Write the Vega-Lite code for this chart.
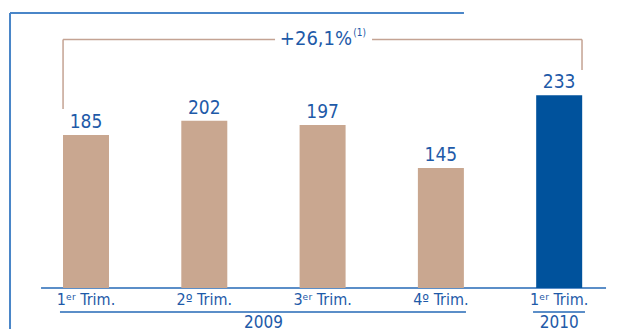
{
  "$schema": "https://vega.github.io/schema/vega-lite/v6.json",
  "width": 622,
  "height": 329,
  "padding": 0,
  "autosize": "none",
  "background": "white",
  "config": {"view": {"stroke": null}, "text": {"font": "DejaVu Sans Condensed, sans-serif"}},
  "datasets": {
    "bars": [
      {"p": 1, "v": 185, "year": "2009"},
      {"p": 2, "v": 202, "year": "2009"},
      {"p": 3, "v": 197, "year": "2009"},
      {"p": 4, "v": 145, "year": "2009"},
      {"p": 5, "v": 233, "year": "2010"}
    ],
    "frame": [
      {"x1": 0.3576, "x2": 0.3576, "y1": -49.5, "y2": 332.3},
      {"x1": 0.3576, "x2": 4.195, "y1": 332.3, "y2": 332.3}
    ],
    "bracket": [
      {"x1": 0.806, "x2": 0.806, "y1": 216.3, "y2": 300.3},
      {"x1": 0.806, "x2": 2.598, "y1": 300.3, "y2": 300.3},
      {"x1": 3.418, "x2": 5.193, "y1": 300.3, "y2": 300.3},
      {"x1": 5.193, "x2": 5.193, "y1": 263.4, "y2": 300.3}
    ],
    "axisline": [
      {"x1": 0.62, "x2": 5.396, "y1": 0, "y2": 0},
      {"x1": 0.78, "x2": 4.212, "y1": -29.0, "y2": -29.0},
      {"x1": 4.779, "x2": 5.218, "y1": -29.0, "y2": -29.0}
    ],
    "qlabels": [
      {"p": 1, "t": "1ᵉʳ Trim."},
      {"p": 2, "t": "2º Trim."},
      {"p": 3, "t": "3ᵉʳ Trim."},
      {"p": 4, "t": "4º Trim."},
      {"p": 5, "t": "1ᵉʳ Trim."}
    ],
    "years": [
      {"p": 2.5, "t": "2009"},
      {"p": 5, "t": "2010"}
    ],
    "growth": [
      {"p": 2.944, "y": 300.3, "t": "+26,1%"}
    ],
    "note": [
      {"p": 3.26, "y": 307.6, "t": "(1)"}
    ]
  },
  "layer": [
    {
      "data": {"name": "frame"},
      "mark": {"type": "rule", "color": "#4a86c8", "strokeWidth": 2},
      "encoding": {
        "x": {"field": "x1", "type": "quantitative", "scale": {"domain": [0.273, 5.531], "nice": false, "zero": false, "padding": 0}, "axis": null},
        "x2": {"field": "x2"},
        "y": {"field": "y1", "type": "quantitative", "scale": {"domain": [-49.5, 348], "nice": false, "zero": false, "padding": 0}, "axis": null},
        "y2": {"field": "y2"}
      }
    },
    {
      "data": {"name": "bracket"},
      "mark": {"type": "rule", "color": "#c4a393", "strokeWidth": 1.5},
      "encoding": {
        "x": {"field": "x1", "type": "quantitative"},
        "x2": {"field": "x2"},
        "y": {"field": "y1", "type": "quantitative"},
        "y2": {"field": "y2"}
      }
    },
    {
      "data": {"name": "axisline"},
      "mark": {"type": "rule", "color": "#5b8ec8", "strokeWidth": 2},
      "encoding": {
        "x": {"field": "x1", "type": "quantitative"},
        "x2": {"field": "x2"},
        "y": {"field": "y1", "type": "quantitative"},
        "y2": {"field": "y2"}
      }
    },
    {
      "data": {"name": "bars"},
      "mark": {"type": "bar", "size": 46},
      "encoding": {
        "x": {"field": "p", "type": "quantitative"},
        "y": {"field": "v", "type": "quantitative"},
        "y2": {"datum": 0},
        "color": {"field": "year", "type": "nominal", "scale": {"domain": ["2009", "2010"], "range": ["#c9a790", "#00529c"]}, "legend": null}
      }
    },
    {
      "data": {"name": "bars"},
      "mark": {"type": "text", "baseline": "alphabetic", "dy": -7, "fontSize": 19, "color": "#1e5aa8"},
      "encoding": {
        "x": {"field": "p", "type": "quantitative"},
        "y": {"field": "v", "type": "quantitative"},
        "text": {"field": "v"}
      }
    },
    {
      "data": {"name": "qlabels"},
      "mark": {"type": "text", "baseline": "middle", "fontSize": 16, "color": "#1e5aa8"},
      "encoding": {
        "x": {"field": "p", "type": "quantitative"},
        "y": {"datum": -14.5},
        "text": {"field": "t"}
      }
    },
    {
      "data": {"name": "years"},
      "mark": {"type": "text", "baseline": "top", "fontSize": 17, "color": "#1e5aa8"},
      "encoding": {
        "x": {"field": "p", "type": "quantitative"},
        "y": {"datum": -32},
        "text": {"field": "t"}
      }
    },
    {
      "data": {"name": "growth"},
      "mark": {"type": "text", "baseline": "middle", "fontSize": 20, "color": "#1e5aa8"},
      "encoding": {
        "x": {"field": "p", "type": "quantitative"},
        "y": {"field": "y", "type": "quantitative"},
        "text": {"field": "t"}
      }
    },
    {
      "data": {"name": "note"},
      "mark": {"type": "text", "baseline": "middle", "align": "left", "fontSize": 10, "color": "#1e5aa8"},
      "encoding": {
        "x": {"field": "p", "type": "quantitative"},
        "y": {"field": "y", "type": "quantitative"},
        "text": {"field": "t"}
      }
    }
  ]
}
